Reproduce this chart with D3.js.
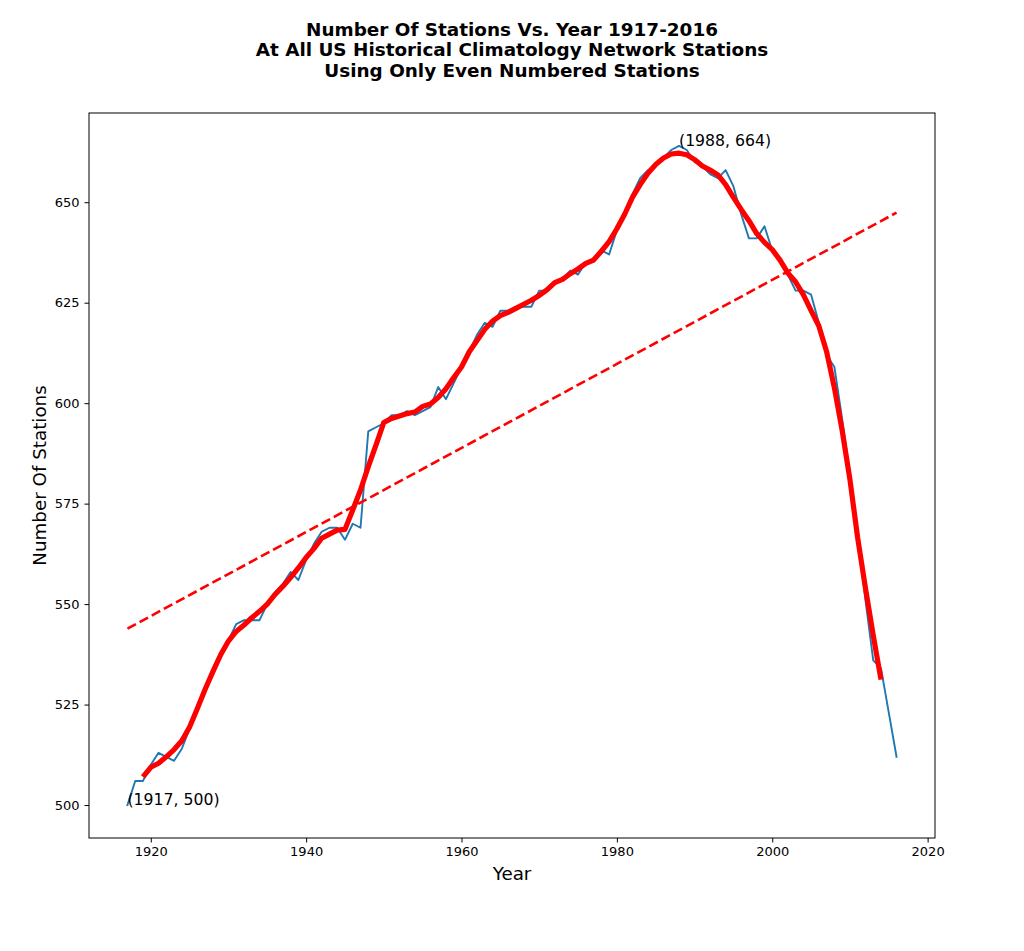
<!DOCTYPE html>
<html>
<head>
<meta charset="utf-8">
<script src="https://cdn.jsdelivr.net/npm/d3@7"></script>
<style>
  html, body { margin: 0; padding: 0; background: #fff; }
  svg { display: block; }
  text { font-family: "DejaVu Sans", sans-serif; fill: #000; }
</style>
</head>
<body>
<svg id="chart" width="1024" height="951"></svg>
<script>
// ---- Data ----
const years = d3.range(1917, 2017);
const stations = [
  500, 506, 506, 510, 513, 512, 511, 514, 519, 524,   // 1917-1926
  529, 534, 538, 541, 545, 546, 546, 546, 550, 553,   // 1927-1936
  555, 558, 556, 561, 565, 568, 569, 569, 566, 570,   // 1937-1946
  569, 593, 594, 595, 597, 597, 598, 597, 598, 599,   // 1947-1956
  604, 601, 605, 609, 613, 617, 620, 619, 623, 623,   // 1957-1966
  624, 624, 624, 628, 628, 630, 631, 633, 632, 635,   // 1967-1976
  636, 638, 637, 643, 647, 652, 656, 658, 659, 661,   // 1977-1986
  663, 664, 663, 660, 659, 657, 656, 658, 654, 647,   // 1987-1996
  641, 641, 644, 638, 636, 632, 628, 628, 627, 620,   // 1997-2006
  612, 609, 596, 582, 567, 551, 536, 534, 523, 512    // 2007-2016
];
const titleLines = [
  "Number Of Stations Vs. Year 1917-2016",
  "At All US Historical Climatology Network Stations",
  "Using Only Even Numbered Stations"
];
const xTicks = [1920, 1940, 1960, 1980, 2000, 2020];
const yTicks = [500, 525, 550, 575, 600, 625, 650];
const xLabel = "Year";
const yLabel = "Number Of Stations";
const annotations = [
  { year: 1917, value: 500, label: "(1917, 500)" },
  { year: 1988, value: 664, label: "(1988, 664)" }
];
const smoothWindow = 5;

// ---- Derived series (as the original chart computes them) ----
const data = years.map((y, i) => ({ year: y, value: stations[i] }));
const half = Math.floor(smoothWindow / 2);
const smooth = [];
for (let i = half; i < data.length - half; i++) {
  smooth.push({ year: data[i].year, value: d3.mean(data.slice(i - half, i + half + 1), d => d.value) });
}
const mx = d3.mean(data, d => d.year), my = d3.mean(data, d => d.value);
const slope = d3.sum(data, d => (d.year - mx) * (d.value - my)) / d3.sum(data, d => (d.year - mx) ** 2);
const intercept = my - slope * mx;
const trend = [years[0], years[years.length - 1]].map(y => ({ year: y, value: intercept + slope * y }));

// ---- Layout ----
const svg = d3.select("#chart");
const L = 89, R = 935, T = 113, B = 838;
const xmin = d3.min(years), xmax = d3.max(years);
const ymin = d3.min(stations), ymax = d3.max(stations);
const xpad = (xmax - xmin) * 0.05, ypad = (ymax - ymin) * 0.05;
const x = d3.scaleLinear().domain([xmin - xpad, xmax + xpad]).range([L, R]);
const y = d3.scaleLinear().domain([ymin - ypad, ymax + ypad]).range([B, T]);

// Title
svg.append("g").selectAll("text").data(titleLines).join("text")
  .attr("x", (L + R) / 2)
  .attr("y", (d, i) => 35.5 + i * 20.8)
  .attr("text-anchor", "middle")
  .attr("font-size", "18.4px")
  .attr("font-weight", "bold")
  .text(d => d);

// Axes
const xAxis = d3.axisBottom(x).tickValues(xTicks).tickFormat(d3.format("d")).tickSize(4.5).tickPadding(4);
const yAxis = d3.axisLeft(y).tickValues(yTicks).tickFormat(d3.format("d")).tickSize(4.5).tickPadding(5);

const gx = svg.append("g").attr("transform", `translate(0,${B})`).call(xAxis);
const gy = svg.append("g").attr("transform", `translate(${L},0)`).call(yAxis);
[gx, gy].forEach(g => {
  g.select(".domain").remove();
  g.selectAll(".tick line").attr("stroke", "#000").attr("stroke-width", 1);
  g.selectAll(".tick text").attr("font-size", "13px").attr("fill", "#000")
    .attr("font-family", "DejaVu Sans, sans-serif");
});

// Frame (spines)
svg.append("rect")
  .attr("x", L).attr("y", T).attr("width", R - L).attr("height", B - T)
  .attr("fill", "none").attr("stroke", "#000").attr("stroke-width", 1);

// Axis labels
svg.append("text")
  .attr("x", (L + R) / 2).attr("y", 879.5)
  .attr("text-anchor", "middle").attr("font-size", "18.3px")
  .text(xLabel);
svg.append("text")
  .attr("transform", `translate(45.5,${(T + B) / 2}) rotate(-90)`)
  .attr("text-anchor", "middle").attr("font-size", "18.3px")
  .text(yLabel);

// Clip
svg.append("clipPath").attr("id", "plotclip")
  .append("rect").attr("x", L).attr("y", T).attr("width", R - L).attr("height", B - T);
const plot = svg.append("g").attr("clip-path", "url(#plotclip)");

const line = d3.line().x(d => x(d.year)).y(d => y(d.value));

plot.append("path").datum(data)
  .attr("d", line).attr("fill", "none")
  .attr("stroke", "#1f77b4").attr("stroke-width", 1.9)
  .attr("stroke-linejoin", "round").attr("stroke-linecap", "square");

plot.append("path").datum(smooth)
  .attr("d", line).attr("fill", "none")
  .attr("stroke", "#ff0000").attr("stroke-width", 5.2)
  .attr("stroke-linejoin", "round").attr("stroke-linecap", "butt");

plot.append("path").datum(trend)
  .attr("d", line).attr("fill", "none")
  .attr("stroke", "#ff0000").attr("stroke-width", 2.6)
  .attr("stroke-dasharray", "9.6,4.2");

// Annotations
svg.append("g").selectAll("text").data(annotations).join("text")
  .attr("x", d => x(d.year)).attr("y", d => y(d.value))
  .attr("font-size", "15.7px")
  .text(d => d.label);
</script>
</body>
</html>
